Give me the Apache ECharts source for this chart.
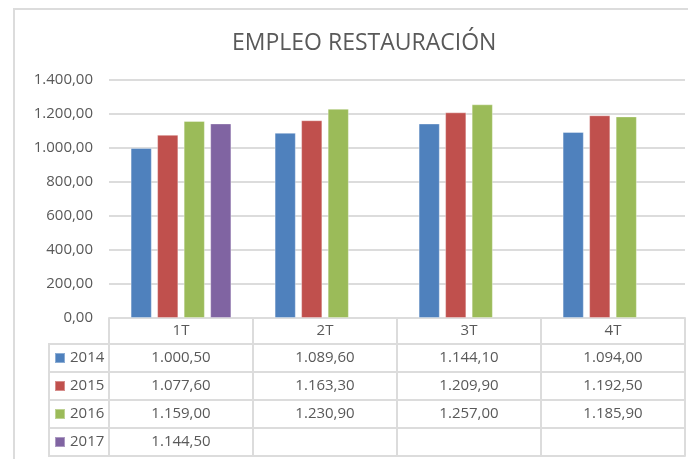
<!DOCTYPE html>
<html>
<head>
<meta charset="utf-8">
<script src="https://cdn.jsdelivr.net/npm/echarts@6/dist/echarts.min.js"></script>
<style>
  html, body { margin: 0; padding: 0; background: #fff; }
  #main { width: 688px; height: 459px; }
</style>
</head>
<body>
<div id="main"></div>
<script>
// datos del grafico
var quarters = ['1T', '2T', '3T', '4T'];
var years = ['2014', '2015', '2016', '2017'];
var v2014 = [1000.5, 1089.6, 1144.1, 1094.0];
var v2015 = [1077.6, 1163.3, 1209.9, 1192.5];
var v2016 = [1159.0, 1230.9, 1257.0, 1185.9];
var v2017 = [1144.5, null, null, null];
var yMin = 0, yMax = 1400, yStep = 200;

var values = [v2014, v2015, v2016, v2017];
var colors = ['#4F81BD', '#C0504D', '#9BBB59', '#8064A2'];
var textColor = '#595959';
var lineColor = '#dcdcdc';
var lineW = 2;
var font = 'Open Sans';

// 1400 -> "1.400,00"
function fmt(v) {
  if (v == null) return '';
  var p = v.toFixed(2).split('.');
  return p[0].replace(/\B(?=(\d{3})+(?!\d))/g, '.') + ',' + p[1];
}

var chart = echarts.init(document.getElementById('main'));

var headerH = 26, rowH = 28;

// eje de categorias = cabecera de la tabla
var xAxes = [{
  type: 'category',
  data: quarters,
  position: 'bottom',
  axisLine: { lineStyle: { color: lineColor, width: lineW } },
  axisTick: { show: true, length: headerH, lineStyle: { color: lineColor, width: lineW } },
  axisLabel: {
    interval: 0, margin: headerH / 2, verticalAlign: 'middle',
    color: textColor, fontFamily: font, fontSize: 15
  }
}];

// una fila de la tabla por serie
values.forEach(function (arr, i) {
  xAxes.push({
    type: 'category',
    data: quarters,
    position: 'bottom',
    offset: headerH + rowH * i,
    axisLine: { lineStyle: { color: lineColor, width: lineW } },
    axisTick: { show: true, length: rowH, lineStyle: { color: lineColor, width: lineW } },
    axisLabel: {
      interval: 0, margin: rowH / 2, verticalAlign: 'middle',
      color: textColor, fontFamily: font, fontSize: 15,
      formatter: function (val, idx) { return fmt(arr[idx]); }
    }
  });
});

// linea de cierre de la tabla
xAxes.push({
  type: 'category',
  data: quarters,
  position: 'bottom',
  offset: headerH + rowH * values.length,
  axisLine: { lineStyle: { color: lineColor, width: lineW } },
  axisTick: { show: false },
  axisLabel: { show: false }
});

var tableTop = 459 - 141 + headerH;
var tableBottom = tableTop + rowH * values.length;
var legendLines = [{
  type: 'line',
  shape: { x1: 49, y1: tableTop, x2: 49, y2: tableBottom },
  style: { stroke: lineColor, lineWidth: lineW }
}];
for (var r = 0; r <= values.length; r++) {
  legendLines.push({
    type: 'line',
    shape: { x1: 48, y1: tableTop + rowH * r, x2: 109, y2: tableTop + rowH * r },
    style: { stroke: lineColor, lineWidth: lineW }
  });
}
// borde del area del grafico
legendLines.push({
  type: 'rect',
  shape: { x: 14, y: 9, width: 720, height: 480 },
  style: { fill: null, stroke: lineColor, lineWidth: 2 }
});

var option = {
  animation: false,
  title: {
    text: 'EMPLEO RESTAURACIÓN',
    left: 227,
    top: 27,
    textStyle: { color: textColor, fontFamily: font, fontWeight: 'normal', fontSize: 23 }
  },
  legend: {
    orient: 'vertical',
    left: 54,
    top: tableTop,
    padding: 0,
    itemGap: 0,
    itemWidth: 10,
    itemHeight: 10,
    icon: 'rect',
    selectedMode: false,
    data: years,
    textStyle: { color: textColor, fontFamily: font, fontSize: 15, lineHeight: rowH, height: rowH }
  },
  grid: { left: 109, right: 3, top: 80, bottom: 141, containLabel: false },
  xAxis: xAxes,
  yAxis: {
    type: 'value',
    min: yMin,
    max: yMax,
    interval: yStep,
    axisLine: { show: false },
    axisTick: { show: false },
    splitLine: { lineStyle: { color: lineColor, width: lineW } },
    axisLabel: {
      margin: 16, color: textColor, fontFamily: font, fontSize: 15,
      formatter: function (v) { return fmt(v); }
    }
  },
  graphic: legendLines,
  series: years.map(function (y, i) {
    return {
      name: y,
      type: 'bar',
      xAxisIndex: 0,
      data: values[i],
      barGap: '25%',
      barCategoryGap: '30%',
      itemStyle: { color: colors[i], borderColor: 'rgba(255,255,255,0.35)', borderWidth: 1 }
    };
  })
};

chart.setOption(option);
</script>
</body>
</html>
